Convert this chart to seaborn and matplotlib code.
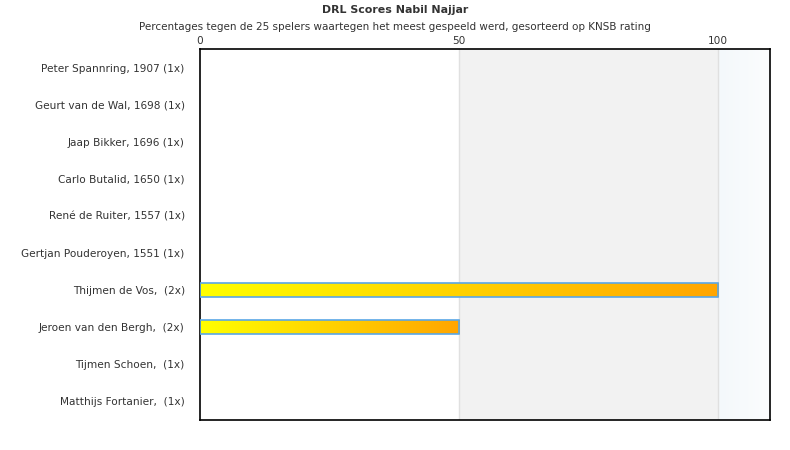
import numpy as np
import pandas as pd
import matplotlib
matplotlib.use("Agg")
import matplotlib.pyplot as plt
import seaborn as sns
from matplotlib.colors import LinearSegmentedColormap

players = ["Peter Spannring, 1907 (1x)", "Geurt van de Wal, 1698 (1x)", "Jaap Bikker, 1696 (1x)",
           "Carlo Butalid, 1650 (1x)", "René de Ruiter, 1557 (1x)", "Gertjan Pouderoyen, 1551 (1x)",
           "Thijmen de Vos,  (2x)", "Jeroen van den Bergh,  (2x)", "Tijmen Schoen,  (1x)",
           "Matthijs Fortanier,  (1x)"]
scores = [0, 0, 0, 0, 0, 0, 100, 50, 0, 0]
xticks = [0, 50, 100]

sns.set_theme(style="white")
plt.rcParams['font.family'] = ['DejaVu Sans']

fig = plt.figure(figsize=(7.9, 4.5), dpi=100)
ax = fig.add_axes([200/790, 1-420/450, 570/790, 371/450])

df = pd.DataFrame({"player": players, "score": scores})
sns.barplot(data=df, x="score", y="player", orient="h", ax=ax, width=0.38,
            color="orange", saturation=1)
bars = list(ax.patches)

n = len(players)
# background bands
ax.axvspan(50, 100, facecolor="#f2f2f2", edgecolor="none", zorder=0)
grad_bg = LinearSegmentedColormap.from_list("bg", ["#f4f8fb", "#fbfdfe"])
ax.imshow(np.linspace(0, 1, 64).reshape(1, -1), cmap=grad_bg, aspect="auto",
          extent=(100, 110, n-0.5, -0.5), zorder=0)
for x in (50, 100):
    ax.axvline(x, color="#e0e0e0", lw=1, zorder=0.5)

cmap = LinearSegmentedColormap.from_list("yo", ["#ffff00", "#ffa500"])
for p in bars:
    w = p.get_width()
    if w <= 0:
        p.set_visible(False)
        continue
    x0, y0 = p.get_x(), p.get_y()
    h = p.get_height()
    im = ax.imshow(np.linspace(0, 1, 256).reshape(1, -1), cmap=cmap, aspect="auto",
                   extent=(x0, x0 + w, y0 + h, y0), zorder=2)
    im.set_clip_path(p)
    p.set_facecolor("none")
    p.set_edgecolor("#5aa7e6")
    p.set_linewidth(1.2)
    p.set_zorder(3)

ax.set_xlim(0, 110)
ax.set_ylim(n-0.5, -0.5)

ax.xaxis.tick_top()
ax.set_xticks(xticks)
ax.set_xticklabels([str(t) for t in xticks])
ax.tick_params(axis="x", length=0, pad=2, labelsize=7.6, colors="#333333")
ax.tick_params(axis="y", length=0, pad=11, labelsize=7.6, colors="#333333")
ax.set_xlabel("")
ax.set_ylabel("")
for s in ax.spines.values():
    s.set_visible(True)
    s.set_color("black")
    s.set_linewidth(1.2)

fig.text(395/790, 1-10/450, "DRL Scores Nabil Najjar", ha="center", va="center",
         fontsize=7.9, fontweight="bold", color="#333333")
fig.text(395/790, 1-27/450, "Percentages tegen de 25 spelers waartegen het meest gespeeld werd, gesorteerd op KNSB rating",
         ha="center", va="center", fontsize=7.5, color="#333333")

fig.savefig("out.png", dpi=100)
